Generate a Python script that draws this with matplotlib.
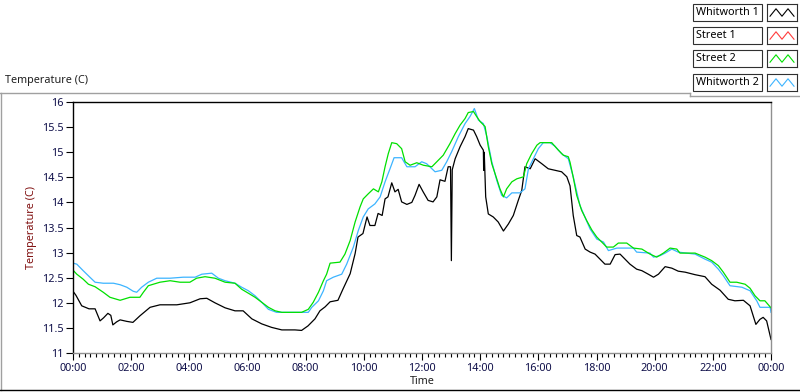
import matplotlib
matplotlib.use("Agg")
import matplotlib.pyplot as plt
from matplotlib.patches import Rectangle
from matplotlib.lines import Line2D

# hours since midnight, temperature (C)
w1_hours = [0.0, 0.10, 0.30, 0.55, 0.76, 0.93, 1.05, 1.20, 1.30, 1.37, 1.50, 1.62, 1.85, 2.06, 2.30,
            2.65, 2.99, 3.57, 4.02, 4.37, 4.60, 4.88, 5.23, 5.57, 5.85, 6.15, 6.49, 6.83, 7.18, 7.63,
            7.86, 8.08, 8.32, 8.49, 8.67, 8.84, 9.11, 9.28, 9.53, 9.70, 9.80, 9.97, 10.11, 10.21,
            10.38, 10.49, 10.63, 10.73, 10.83, 10.96, 11.07, 11.18, 11.30, 11.48, 11.65, 11.76,
            11.90, 12.04, 12.21, 12.38, 12.51, 12.62, 12.79, 12.90, 12.98, 13.01, 13.04, 13.14,
            13.31, 13.48, 13.59, 13.77, 13.88, 14.00, 14.11, 14.12, 14.14, 14.19, 14.28, 14.45,
            14.62, 14.80, 14.97, 15.14, 15.31, 15.43, 15.54, 15.72, 15.89, 16.12, 16.34, 16.57,
            16.80, 16.98, 17.09, 17.20, 17.32, 17.43, 17.61, 17.78, 17.95, 18.12, 18.29, 18.47,
            18.64, 18.81, 18.98, 19.15, 19.38, 19.56, 19.78, 19.96, 20.13, 20.36, 20.59, 20.81,
            21.05, 21.39, 21.73, 21.96, 22.25, 22.53, 22.76, 23.05, 23.28, 23.39, 23.48, 23.62,
            23.73, 23.85, 23.97, 24.0]
w1_temp = [12.23, 12.15, 11.94, 11.88, 11.88, 11.64, 11.70, 11.79, 11.75, 11.56, 11.62, 11.66, 11.63,
           11.61, 11.74, 11.91, 11.96, 11.96, 12.00, 12.08, 12.09, 12.00, 11.90, 11.84, 11.84, 11.68,
           11.58, 11.51, 11.46, 11.46, 11.45, 11.54, 11.68, 11.84, 11.92, 12.02, 12.05, 12.27, 12.58,
           12.98, 13.31, 13.38, 13.71, 13.54, 13.54, 13.78, 13.74, 14.07, 14.11, 14.39, 14.21, 14.26,
           14.01, 13.96, 14.00, 14.14, 14.36, 14.21, 14.04, 14.01, 14.11, 14.45, 14.42, 14.71, 14.71,
           12.84, 14.65, 14.87, 15.11, 15.31, 15.47, 15.44, 15.31, 15.14, 15.04, 14.64, 15.00, 14.11,
           13.77, 13.71, 13.61, 13.43, 13.57, 13.74, 14.04, 14.24, 14.71, 14.67, 14.87, 14.77, 14.67,
           14.64, 14.61, 14.51, 14.33, 13.74, 13.34, 13.31, 13.07, 13.01, 12.97, 12.87, 12.77, 12.77,
           12.96, 12.97, 12.87, 12.77, 12.67, 12.64, 12.57, 12.51, 12.57, 12.72, 12.69, 12.63, 12.61,
           12.56, 12.52, 12.37, 12.25, 12.07, 12.04, 12.05, 11.94, 11.74, 11.57, 11.67, 11.71, 11.64,
           11.34, 11.27]

s1_hours = []
s1_temp = []

s2_hours = [0.0, 0.13, 0.35, 0.53, 0.76, 1.04, 1.27, 1.62, 1.96, 2.30, 2.42, 2.59, 2.76, 2.99, 3.34,
            3.68, 4.02, 4.25, 4.54, 4.88, 5.23, 5.57, 5.80, 6.09, 6.26, 6.49, 6.72, 6.95, 7.18, 7.86,
            8.09, 8.26, 8.44, 8.61, 8.72, 8.84, 9.18, 9.35, 9.53, 9.70, 9.87, 9.98, 10.15, 10.33,
            10.50, 10.62, 10.73, 10.84, 10.96, 11.13, 11.30, 11.42, 11.59, 11.82, 12.05, 12.34,
            12.51, 12.73, 12.96, 13.14, 13.31, 13.48, 13.59, 13.77, 13.88, 14.00, 14.17, 14.28,
            14.40, 14.57, 14.68, 14.80, 14.91, 15.09, 15.26, 15.49, 15.60, 15.77, 15.95, 16.06,
            16.46, 16.69, 16.86, 17.03, 17.09, 17.20, 17.32, 17.49, 17.66, 17.84, 18.01, 18.18,
            18.35, 18.58, 18.75, 19.04, 19.27, 19.56, 19.84, 20.07, 20.30, 20.53, 20.76, 20.87,
            21.39, 21.73, 21.96, 22.19, 22.36, 22.59, 22.82, 23.11, 23.28, 23.45, 23.62, 23.79,
            23.97, 24.0]
s2_temp = [12.65, 12.57, 12.47, 12.37, 12.32, 12.21, 12.11, 12.05, 12.11, 12.11, 12.21, 12.34, 12.37,
           12.41, 12.44, 12.41, 12.41, 12.49, 12.52, 12.49, 12.41, 12.39, 12.27, 12.17, 12.11, 12.01,
           11.91, 11.84, 11.81, 11.81, 11.87, 12.01, 12.21, 12.44, 12.57, 12.79, 12.81, 12.97, 13.24,
           13.61, 13.91, 14.07, 14.17, 14.27, 14.21, 14.41, 14.71, 14.97, 15.19, 15.17, 15.07, 14.81,
           14.74, 14.79, 14.74, 14.71, 14.81, 14.94, 15.17, 15.37, 15.54, 15.67, 15.79, 15.81, 15.71,
           15.61, 15.51, 15.11, 14.77, 14.47, 14.27, 14.11, 14.27, 14.41, 14.47, 14.51, 14.77, 14.97,
           15.14, 15.19, 15.19, 15.04, 14.94, 14.91, 14.80, 14.50, 14.14, 13.84, 13.64, 13.45, 13.31,
           13.21, 13.11, 13.11, 13.19, 13.19, 13.09, 13.07, 12.97, 12.91, 12.99, 13.09, 13.07, 12.99,
           12.99, 12.91, 12.84, 12.74, 12.61, 12.41, 12.41, 12.37, 12.29, 12.14, 12.04, 12.04, 11.92,
           11.90]

w2_hours = [0.0, 0.13, 0.35, 0.58, 0.76, 1.04, 1.39, 1.62, 1.85, 2.07, 2.19, 2.36, 2.59, 2.88, 3.34,
            3.79, 4.20, 4.43, 4.77, 5.00, 5.23, 5.57, 5.80, 6.03, 6.26, 6.49, 6.72, 7.00, 8.09, 8.21,
            8.44, 8.61, 8.72, 8.95, 9.24, 9.41, 9.64, 9.81, 9.98, 10.15, 10.38, 10.56, 10.73, 10.90,
            11.04, 11.30, 11.48, 11.76, 11.99, 12.16, 12.45, 12.68, 12.85, 13.02, 13.25, 13.48,
            13.65, 13.80, 13.94, 14.11, 14.23, 14.40, 14.57, 14.74, 14.91, 15.09, 15.37, 15.54,
            15.66, 15.83, 16.00, 16.17, 16.40, 16.57, 16.80, 17.03, 17.20, 17.43, 17.78, 18.01,
            18.24, 18.41, 18.70, 19.27, 19.38, 19.84, 19.96, 20.19, 20.36, 20.59, 20.81, 21.39,
            21.73, 21.96, 22.19, 22.36, 22.59, 23.00, 23.28, 23.51, 23.62, 23.97, 24.0]
w2_temp = [12.79, 12.77, 12.64, 12.51, 12.41, 12.39, 12.39, 12.36, 12.31, 12.23, 12.21, 12.31, 12.41,
           12.49, 12.49, 12.51, 12.51, 12.57, 12.59, 12.49, 12.44, 12.39, 12.31, 12.24, 12.14, 12.01,
           11.87, 11.81, 11.81, 11.91, 12.04, 12.24, 12.44, 12.51, 12.57, 12.77, 13.11, 13.44, 13.71,
           13.87, 13.97, 14.11, 14.41, 14.67, 14.89, 14.89, 14.71, 14.71, 14.81, 14.77, 14.61, 14.64,
           14.81, 15.01, 15.31, 15.57, 15.71, 15.87, 15.64, 15.57, 15.31, 14.81, 14.44, 14.14, 14.09,
           14.19, 14.19, 14.27, 14.67, 14.87, 15.07, 15.19, 15.19, 15.12, 14.97, 14.87, 14.51, 13.94,
           13.47, 13.27, 13.21, 13.04, 13.09, 13.09, 13.01, 12.99, 12.91, 12.94, 12.99, 13.07, 13.01,
           12.97, 12.87, 12.81, 12.67, 12.54, 12.34, 12.31, 12.24, 12.04, 11.91, 11.91, 11.81]

series_names = ["Whitworth 1", "Street 1", "Street 2", "Whitworth 2"]
series_colors = ["#000000", "#ff3c3c", "#00e000", "#3cb4ff"]

xtick_labels = ["00:00", "02:00", "04:00", "06:00", "08:00", "10:00", "12:00",
                "14:00", "16:00", "18:00", "20:00", "22:00", "00:00"]
ytick_labels = ["11", "11.5", "12", "12.5", "13", "13.5", "14", "14.5", "15", "15.5", "16"]

W, H = 800, 392
plt.rcParams['font.family'] = ['Noto Sans', 'DejaVu Sans']
fig = plt.figure(figsize=(W / 100, H / 100), dpi=100)


def px(x, y):
    return x / W, 1 - y / H


# outer panel frame
fig.add_artist(Line2D([0 / W, 690 / W], [1 - 93 / H] * 2, color="#a0a0a0", lw=1))
fig.add_artist(Line2D([690 / W, 690 / W], [1 - 93 / H, 1 - 96 / H], color="#a0a0a0", lw=1))
fig.add_artist(Line2D([690 / W, 800 / W], [1 - 96 / H] * 2, color="#a0a0a0", lw=1))
fig.add_artist(Line2D([1 / W, 1 / W], [1 - 93 / H, 1 - 390 / H], color="#a0a0a0", lw=1))
fig.add_artist(Line2D([0, 1], [1 - 390 / H] * 2, color="#000000", lw=1))

fig.text(*px(5, 81), "Temperature (C)", fontsize=7.8, va="center", ha="left", color="#202020")

x0, y0 = px(73, 353)
x1, y1 = px(771, 102)
ax = fig.add_axes([x0, y0, x1 - x0, y1 - y0])

ax.plot(w1_hours, w1_temp, color=series_colors[0], lw=0.9)
ax.plot(s1_hours, s1_temp, color=series_colors[1], lw=0.9)
ax.plot(w2_hours, w2_temp, color=series_colors[3], lw=0.9)
ax.plot(s2_hours, s2_temp, color=series_colors[2], lw=0.9)

ax.set_xlim(0, 24)
ax.set_ylim(11, 16)
ax.set_xticks([i * 2 for i in range(len(xtick_labels))])
ax.set_xticklabels(xtick_labels)
ax.set_xticks([i * 0.2 for i in range(121)], minor=True)
ax.set_yticks([11 + i * 0.5 for i in range(len(ytick_labels))])
ax.set_yticklabels(ytick_labels)

ax.tick_params(axis="both", which="major", labelsize=7.8, labelcolor="#10104a",
               direction="out", length=5, width=0.8, color="#000000", pad=2)
ax.tick_params(axis="x", which="minor", direction="out", length=3, width=0.8, color="#000000")

for side in ["left", "top"]:
    ax.spines[side].set_color("#000000")
for side in ["right", "bottom"]:
    ax.spines[side].set_color("#909090")
for s in ax.spines.values():
    s.set_linewidth(1.0)

ax.set_xlabel("Time", fontsize=7.8, color="#202020", labelpad=2)
ax.set_ylabel("Temperature (C)", fontsize=7.8, color="#801010", labelpad=3)

# LabVIEW-style legend
box_tops = [4, 27, 50, 74]
for name, color, top in zip(series_names, series_colors, box_tops):
    bx, by = px(693, top + 17)
    fig.add_artist(Rectangle((bx, by), 69 / W, 17 / H, transform=fig.transFigure,
                             facecolor="white", edgecolor="#303030", lw=0.8))
    fig.text(*px(696, top + 8.5), name, fontsize=7.8, va="center", ha="left", color="#000000")
    sx, sy = px(767, top + 17)
    lax = fig.add_axes([sx, sy, 30 / W, 17 / H])
    lax.plot([0, 1, 2, 3, 4], [0.15, 0.85, 0.15, 0.85, 0.15], color=color, lw=0.8)
    lax.set_xlim(-0.5, 4.5)
    lax.set_ylim(-0.3, 1.3)
    lax.set_xticks([])
    lax.set_yticks([])
    for s in lax.spines.values():
        s.set_color("#303030")
        s.set_linewidth(0.8)

fig.savefig("out.png", dpi=100, facecolor="white")
